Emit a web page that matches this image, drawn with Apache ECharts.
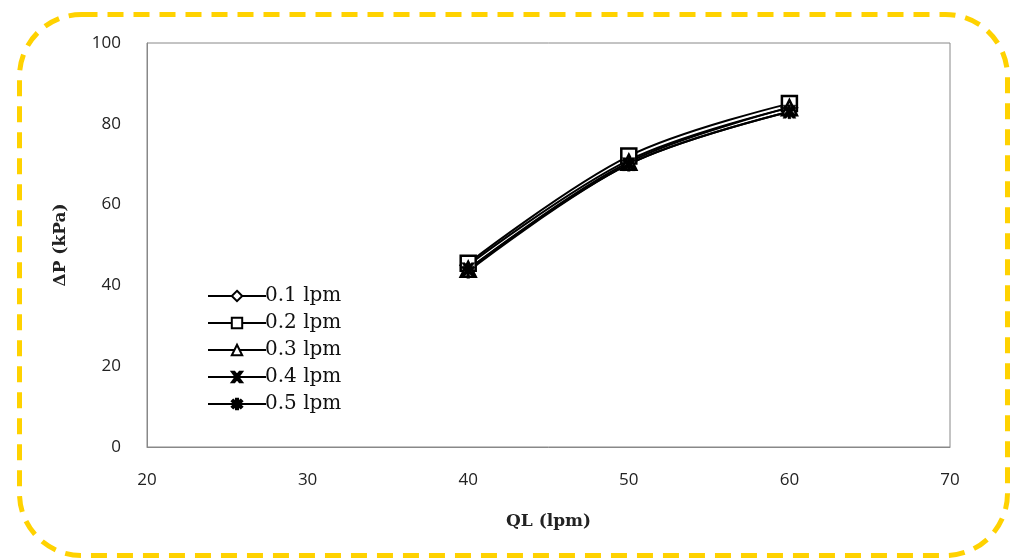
<!DOCTYPE html>
<html><head><meta charset="utf-8">
<script src="https://cdn.jsdelivr.net/npm/echarts@6/dist/echarts.min.js"></script>
<style>html,body{margin:0;padding:0;background:#fff}#c{width:1017px;height:558px}</style>
</head><body><div id="c"></div>
<script>
const xValues = [40, 50, 60];
const seriesNames = ['0.1 lpm', '0.2 lpm', '0.3 lpm', '0.4 lpm', '0.5 lpm'];
const s01 = [45, 71, 84];
const s02 = [45.5, 72, 85];
const s03 = [44, 70.5, 84];
const s04 = [44, 70, 83];
const s05 = [43.5, 70, 83];
const allValues = [s01, s02, s03, s04, s05];
const xTicks = [20, 30, 40, 50, 60, 70];
const yTicks = [0, 20, 40, 60, 80, 100];

const crossPath = 'path://M0,0 L2.5,0 L5,3 L7.5,0 L10,0 L6.3,5 L10,10 L7.5,10 L5,7 L2.5,10 L0,10 L3.7,5 Z';
const starPath = 'path://M4,0 L6,0 L6,3.3 L8.6,1 L10,2.4 L7.2,5 L10,7.6 L8.6,9 L6,6.7 L6,10 L4,10 L4,6.7 L1.4,9 L0,7.6 L2.8,5 L0,2.4 L1.4,1 L4,3.3 Z';
const symbols = ['diamond', 'rect', 'triangle', crossPath, starPath];
const sizes = [15, 15, 15, 13, 14];
const filled = [false, false, false, true, true];

const chart = echarts.init(document.getElementById('c'), null, {renderer: 'canvas'});
const series = seriesNames.map((n, i) => ({
  name: n,
  type: 'line',
  smooth: 0.35,
  data: xValues.map((x, j) => [x, allValues[i][j]]),
  symbol: symbols[i],
  symbolSize: sizes[i],
  showAllSymbol: true,
  lineStyle: {color: '#000', width: 2},
  itemStyle: {color: filled[i] ? '#000' : '#fff', borderColor: '#000', borderWidth: filled[i] ? 0.5 : 2.5},
  emphasis: {disabled: true}
}));

chart.setOption({
  animation: false,
  backgroundColor: '#fff',
  grid: {left: 147, right: 67, top: 43, bottom: 111, show: true, borderColor: '#888', borderWidth: 1},
  xAxis: {
    type: 'value', min: 20, max: 70, interval: 10,
    name: 'QL (lpm)', nameLocation: 'middle', nameGap: 66,
    nameTextStyle: {fontFamily: 'DejaVu Serif', fontWeight: 'bold', fontSize: 17, color: '#222'},
    axisLine: {show: true, lineStyle: {color: '#888'}},
    axisTick: {show: false},
    splitLine: {show: false},
    axisLabel: {fontFamily: 'Open Sans', fontSize: 17, color: '#222', margin: 25,
      formatter: v => xTicks.includes(v) ? String(v) : ''}
  },
  yAxis: {
    type: 'value', min: 0, max: 100, interval: 20,
    name: 'ΔP (kPa)', nameLocation: 'middle', nameGap: 78, nameRotate: 90,
    nameTextStyle: {fontFamily: 'DejaVu Serif', fontWeight: 'bold', fontSize: 17, color: '#222'},
    axisLine: {show: true, lineStyle: {color: '#888'}},
    axisTick: {show: false},
    splitLine: {show: false},
    axisLabel: {fontFamily: 'Open Sans', fontSize: 17, color: '#222', margin: 26,
      formatter: v => yTicks.includes(v) ? String(v) : ''}
  },
  legend: {
    orient: 'vertical', left: 202, top: 281, itemGap: 7,
    itemWidth: 58, itemHeight: 13,
    data: seriesNames,
    textStyle: {fontFamily: 'DejaVu Serif', fontSize: 20, color: '#111', padding: [0,0,0,-6]}
  },
  graphic: [{
    type: 'rect', left: 17, top: 12, z: 100, silent: true,
    shape: {width: 988, height: 541, r: 62},
    style: {fill: 'none', stroke: '#FFD200', lineWidth: 5, lineDash: [16, 10]}
  }],
  series: series
});
</script></body></html>
